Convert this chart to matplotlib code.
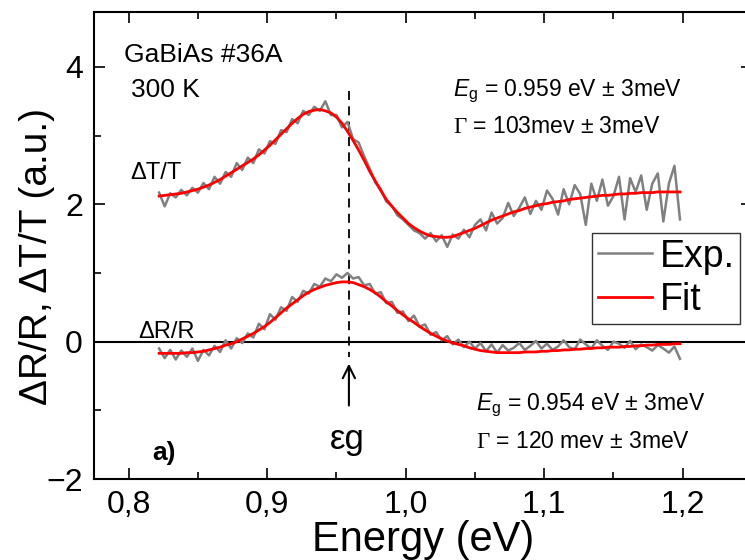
import numpy as np
import matplotlib
matplotlib.use('Agg')
import matplotlib.pyplot as plt

plt.rcParams['font.family'] = ['Liberation Sans', 'DejaVu Sans']
plt.rcParams['mathtext.fontset'] = 'custom'
plt.rcParams['mathtext.rm'] = 'Liberation Serif'
plt.rcParams['mathtext.it'] = 'Liberation Sans:italic'
plt.rcParams['mathtext.sf'] = 'Liberation Sans'

# photon energy grid of the traces (0.822 ... 1.198 eV, 4 meV steps)
energy = np.linspace(0.822, 1.198, 95)

exp_dT = [2.17, 1.97, 2.16, 2.10, 2.21, 2.13, 2.24, 2.17, 2.31, 2.22,
          2.40, 2.30, 2.47, 2.40, 2.60, 2.50, 2.68, 2.60, 2.80, 2.74,
          2.92, 2.88, 3.08, 3.05, 3.24, 3.18, 3.36, 3.30, 3.42, 3.36,
          3.50, 3.30, 3.30, 3.12, 3.20, 2.95, 2.90, 2.70, 2.52, 2.32,
          2.22, 2.04, 1.98, 1.84, 1.78, 1.70, 1.62, 1.58, 1.50, 1.58,
          1.46, 1.55, 1.38, 1.56, 1.50, 1.63, 1.52, 1.70, 1.78, 1.62,
          1.88, 1.72, 1.80, 2.02, 1.83, 1.95, 2.10, 1.86, 2.05, 1.92,
          2.20, 2.08, 1.85, 2.22, 2.00, 2.28, 2.15, 1.70, 2.30, 2.05,
          2.36, 1.98, 2.12, 2.40, 1.78, 2.38, 2.18, 2.42, 1.92, 2.30,
          2.45, 1.75, 2.30, 2.56, 1.78]
exp_dR = [-0.10, -0.24, -0.12, -0.26, -0.13, -0.22, -0.10, -0.28, -0.12, -0.20,
          -0.06, -0.15, 0.02, -0.10, 0.05, -0.02, 0.12, 0.06, 0.26, 0.18,
          0.40, 0.32, 0.50, 0.45, 0.65, 0.58, 0.74, 0.70, 0.84, 0.80,
          0.92, 0.88, 0.98, 0.93, 1.00, 0.92, 0.94, 0.82, 0.84, 0.70,
          0.72, 0.56, 0.58, 0.42, 0.44, 0.30, 0.38, 0.22, 0.25, 0.10,
          0.14, 0.02, 0.08, -0.04, 0.03, -0.08, 0.00, -0.10, -0.02, -0.14,
          -0.04, -0.16, -0.05, -0.13, -0.09, -0.02, -0.12, -0.06, 0.01, -0.10,
          -0.03, -0.12, -0.07, 0.02, -0.08, -0.11, 0.03, -0.04, -0.10, 0.02,
          -0.06, -0.12, 0.00, -0.03, -0.09, 0.01, -0.11, -0.04, -0.08, -0.13,
          -0.05, -0.10, -0.16, -0.07, -0.25]

# fitted curves on the same grid
fit_dT = [2.12, 2.13, 2.14, 2.15, 2.16, 2.18, 2.20, 2.22, 2.25, 2.28,
          2.32, 2.36, 2.41, 2.46, 2.51, 2.56, 2.61, 2.66, 2.72, 2.79,
          2.86, 2.94, 3.02, 3.10, 3.18, 3.25, 3.31, 3.35, 3.37, 3.38,
          3.36, 3.33, 3.27, 3.18, 3.06, 2.93, 2.79, 2.64, 2.48, 2.34,
          2.20, 2.07, 1.97, 1.88, 1.80, 1.72, 1.66, 1.61, 1.57, 1.54,
          1.53, 1.52, 1.52, 1.53, 1.56, 1.59, 1.62, 1.65, 1.69, 1.73,
          1.77, 1.80, 1.83, 1.86, 1.89, 1.91, 1.94, 1.96, 1.98, 2.00,
          2.01, 2.03, 2.04, 2.05, 2.07, 2.08, 2.09, 2.10, 2.11, 2.12,
          2.13, 2.13, 2.14, 2.15, 2.15, 2.16, 2.16, 2.17, 2.17, 2.17,
          2.18, 2.18, 2.18, 2.18, 2.18]
fit_dR = [-0.17, -0.17, -0.17, -0.17, -0.17, -0.16, -0.16, -0.15, -0.14, -0.12,
          -0.10, -0.08, -0.05, -0.03, 0.00, 0.04, 0.08, 0.12, 0.17, 0.22,
          0.28, 0.35, 0.42, 0.49, 0.55, 0.61, 0.67, 0.72, 0.76, 0.79,
          0.82, 0.84, 0.86, 0.87, 0.87, 0.86, 0.83, 0.80, 0.76, 0.71,
          0.65, 0.58, 0.52, 0.45, 0.39, 0.33, 0.28, 0.22, 0.17, 0.12,
          0.08, 0.04, 0.01, -0.02, -0.04, -0.06, -0.09, -0.11, -0.13, -0.14,
          -0.15, -0.16, -0.16, -0.16, -0.16, -0.16, -0.15, -0.15, -0.15, -0.14,
          -0.14, -0.13, -0.13, -0.12, -0.12, -0.11, -0.11, -0.10, -0.10, -0.09,
          -0.09, -0.08, -0.08, -0.08, -0.07, -0.07, -0.06, -0.06, -0.05, -0.05,
          -0.04, -0.04, -0.04, -0.03, -0.03]

Eg = 0.959

fig = plt.figure(figsize=(7.45, 5.6), dpi=100)
ax = fig.add_axes([0.1262, 0.1446, 0.8832, 0.834])

ax.axhline(0, color='black', lw=1.5, zorder=1)
ax.plot(energy, exp_dT, color='#808080', lw=1.8, label='Exp.', zorder=2)
ax.plot(energy, exp_dR, color='#808080', lw=1.8, zorder=2)
ax.plot(energy, fit_dT, color='red', lw=2.0, label='Fit', zorder=3)
ax.plot(energy, fit_dR, color='red', lw=2.0, zorder=3)
ax.plot([Eg, Eg], [3.65, -0.22], color='black', lw=1.3, ls=(0, (5, 3.5)), zorder=1)
ax.annotate('', xy=(Eg, -0.28), xytext=(Eg, -0.97),
            arrowprops=dict(arrowstyle='->', color='black', lw=1.5,
                            mutation_scale=22))

ax.set_xlim(0.775, 1.25)
ax.set_ylim(-2, 4.8)
ax.set_xticks([0.8, 0.9, 1.0, 1.1, 1.2])
ax.set_xticklabels(['0,8', '0,9', '1,0', '1,1', '1,2'])
ax.set_xticks([0.85, 0.95, 1.05, 1.15], minor=True)
ax.set_yticks([-2, 0, 2, 4])
ax.set_yticks([-1, 1, 3], minor=True)
ax.tick_params(which='both', direction='in', top=True, right=True,
               labelsize=23, width=1.2)
ax.tick_params(which='major', length=8, pad=8)
ax.tick_params(which='minor', length=5)
for s in ax.spines.values():
    s.set_linewidth(1.5)

ax.set_xlabel('Energy (eV)', fontsize=30, labelpad=0)
ax.set_ylabel('ΔR/R, ΔT/T (a.u.)', fontsize=28)
ax.yaxis.set_label_coords(-0.06, 0.4775)

ax.text(0.7965, 4.07, 'GaBiAs #36A', fontsize=19)
ax.text(0.8015, 3.56, '300 K', fontsize=19)
ax.text(0.8015, 2.37, 'ΔT/T', fontsize=17)
ax.text(0.807, 0.06, 'ΔR/R', fontsize=17)
ax.text(1.034, 3.57, r'$E_\mathsf{g}$ = 0.959 eV ± 3meV', fontsize=16.5)
ax.text(1.034, 3.04, r'$\Gamma$ = 103mev ± 3meV', fontsize=16.5)
ax.text(1.0505, -1.0, r'$E_\mathsf{g}$ = 0.954 eV ± 3meV', fontsize=16.5)
ax.text(1.0505, -1.55, r'$\Gamma$ = 120 mev ± 3meV', fontsize=16.5)
ax.text(0.8173, -1.73, 'a)', fontsize=19, fontweight='bold')
ax.text(Eg - 0.001, -1.56, 'εg', fontsize=25, ha='center')

leg = ax.legend(loc='upper left', bbox_to_anchor=(0.757, 0.527), fontsize=27,
                frameon=True, fancybox=False, edgecolor='black',
                handlelength=1.45, handletextpad=0.2, labelspacing=0.2,
                borderpad=0.15, borderaxespad=0)
leg.get_frame().set_linewidth(1.0)

plt.savefig('out.png', dpi=100)
